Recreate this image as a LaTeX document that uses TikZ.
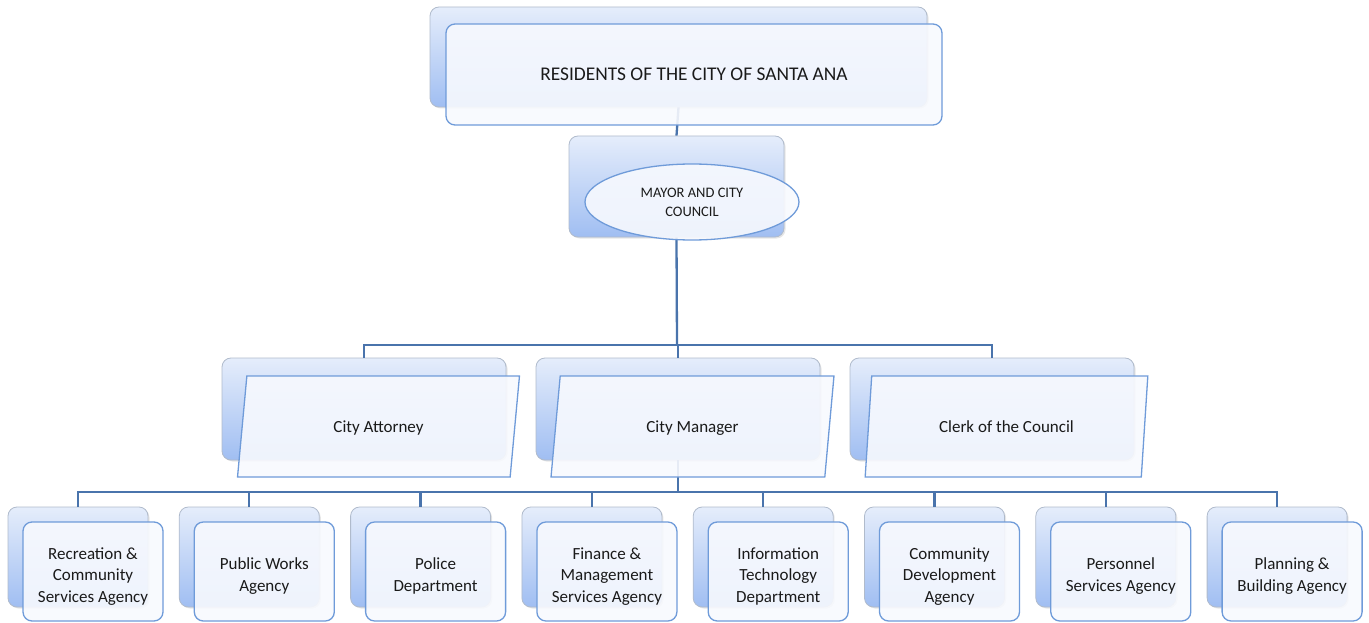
\documentclass[tikz,border=0pt]{standalone}
\usepackage{fontspec}
\setmainfont{Carlito}
\usetikzlibrary{positioning,calc,shapes.geometric,shadows}
\definecolor{orgLine}{HTML}{4A74AC}
\definecolor{orgEdge}{HTML}{6F9BD9}
\definecolor{orgBackTop}{HTML}{E5EDFB}
\definecolor{orgBackBot}{HTML}{A0BEF2}
\definecolor{orgBackEdge}{HTML}{B0BBCC}
\definecolor{orgFront}{HTML}{F7F9FE}
\definecolor{orgText}{HTML}{1A1A1A}
\newcommand\dlift{\rule{0pt}{21pt}}

\tikzset{
  backbox/.style={draw=orgBackEdge, line width=0.8pt, rounded corners=9pt,
    top color=orgBackTop, bottom color=orgBackBot,
    drop shadow={opacity=0.2, shadow xshift=1.5pt, shadow yshift=-1.5pt}},
  frontbox/.style={draw=orgEdge, line width=1.3pt, rounded corners=9pt,
    fill=orgFront, fill opacity=0.9, text opacity=1, text=orgText,
    align=center, inner sep=2pt},
  link/.style={draw=orgLine, line width=2.3pt},
  deptfont/.style={font=\fontsize{17}{21.5}\selectfont},
}

\begin{document}
\begin{tikzpicture}[x=1pt, y=-1pt]
\useasboundingbox (0,0) rectangle (1369,623);

%% --- BACK BOXES ---
\node[backbox, minimum width=497pt, minimum height=100pt] (resback) at (678.5,57) {};
\node[backbox, minimum width=215pt, minimum height=101pt] (mayback) at (676.5,186.5) {};
\foreach \nm [count=\k] in {attback, mgrback, clkback} {
  \pgfmathsetmacro\cx{364 + (\k - 1) * 314}
  \node[backbox, minimum width=284pt, minimum height=102pt] (\nm) at (\cx,409) {};
}
\foreach \i in {1,...,8} {
  \pgfmathsetmacro\cx{78 + (\i - 1) * 171.3}
  \node[backbox, minimum width=140pt, minimum height=100pt] (dback\i) at (\cx,557) {};
}

%% --- CONNECTORS ---
\coordinate (govbus) at (677,345);
\coordinate (deptbus) at (678,492);
\draw[link] (resback.south) -- (mayback.north);
\draw[link] (mayback.south) -- (govbus);
\foreach \nm in {attback, mgrback, clkback}
  \draw[link] (govbus) -| (\nm.north);
\draw[link] (mgrback.south) -- (deptbus);
\foreach \i in {1,...,8}
  \draw[link] (deptbus) -| (dback\i.north);

%% --- FRONT SHAPES ---
\node[frontbox, minimum width=496pt, minimum height=101pt,
  font=\fontsize{19.4}{23}\selectfont] (residents) at (694,74.5)
  {RESIDENTS OF THE CITY OF SANTA ANA};
\node[frontbox, ellipse, sharp corners, minimum width=214pt, minimum height=76pt,
  font=\fontsize{14.5}{19}\selectfont] (mayor) at (692,202)
  {MAYOR AND CITY\\COUNCIL};

% parallelograms (trapezium with opposite angles)
\foreach \nm/\txt [count=\k] in {attorney/City Attorney, manager/City Manager,
                                 clerk/Clerk of the Council} {
  \pgfmathsetmacro\cx{378.5 + (\k - 1) * 314}
  \node[frontbox, deptfont, trapezium, sharp corners, trapezium stretches=true,
    trapezium left angle=78, trapezium right angle=102, text depth=0pt,
    minimum width=283pt, minimum height=101pt] (\nm) at (\cx,426.5) {\txt};
}

% departments
\foreach \dname [count=\i] in {Recreation \&\\Community\\Services Agency,
    Public Works\\Agency, Police\\Department,
    Finance \&\\Management\\Services Agency,
    Information\\Technology\\Department,
    Community\\Development\\Agency,
    Personnel\\Services Agency,
    Planning \&\\Building Agency} {
  \node[frontbox, deptfont, minimum width=140pt, minimum height=99pt]
    (dept\i) at ($(dback\i)+(15,14.5)$) {\dlift\dname};
}

\end{tikzpicture}
\end{document}
